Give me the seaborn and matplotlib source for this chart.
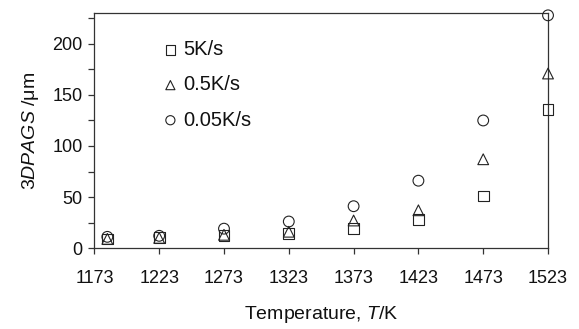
import matplotlib
matplotlib.use("Agg")
import matplotlib.pyplot as plt
import seaborn as sns
import pandas as pd

temps = [1183, 1223, 1273, 1323, 1373, 1423, 1473, 1523]
rate_5 = [9, 10, 12, 14, 19, 28, 51, 136]
rate_05 = [9, 10, 13, 16, 27, 37, 87, 171]
rate_005 = [11, 12, 19, 26, 41, 66, 125, 228]
series_labels = ["5K/s", "0.5K/s", "0.05K/s"]
series_markers = ["s", "^", "o"]
xticks = [1173, 1223, 1273, 1323, 1373, 1423, 1473, 1523]
yticks = [0, 50, 100, 150, 200]

sns.set_theme(style="ticks")
plt.rcParams["font.family"] = ["Liberation Sans", "DejaVu Sans"]
plt.rcParams["mathtext.fontset"] = "custom"
plt.rcParams["mathtext.it"] = "Liberation Sans:italic"
plt.rcParams["mathtext.rm"] = "Liberation Sans"

df = pd.DataFrame({
    "T": temps * 3,
    "size": rate_5 + rate_05 + rate_005,
    "rate": [series_labels[0]] * 8 + [series_labels[1]] * 8 + [series_labels[2]] * 8,
})

fig = plt.figure(figsize=(5.79, 3.29), dpi=100)
ax = fig.add_axes([0.163, 0.246, 0.7835, 0.7136])

for lab, mk in zip(series_labels, series_markers):
    sub = df[df["rate"] == lab]
    sns.scatterplot(data=sub, x="T", y="size", marker=mk, s=60,
                    facecolors="none", edgecolor="#222222", linewidth=0.8,
                    label=lab, ax=ax, zorder=3, clip_on=False)

ax.set_xlim(1173, 1523)
ax.set_ylim(0, 230)
ax.set_xticks(xticks)
ax.set_xticklabels([str(t) for t in xticks])
ax.set_yticks(yticks)
ax.set_yticks([25, 75, 125, 175, 225], minor=True)

for sp in ax.spines.values():
    sp.set_visible(True)
    sp.set_color("#333333")
    sp.set_linewidth(0.9)

ax.tick_params(axis="both", which="both", direction="out", length=4, width=0.9,
               color="#333333", labelsize=13, labelcolor="#111111")
ax.tick_params(axis="x", pad=12)
ax.tick_params(axis="y", pad=4.5)

ax.set_xlabel(r"Temperature, $\it{T}$/K", fontsize=14, labelpad=12, color="#111111")
ax.set_ylabel(r"$\it{3DPAGS}$ /μm", fontsize=14, labelpad=8, color="#111111")

leg = ax.legend(loc="upper left", bbox_to_anchor=(0.152, 0.885), frameon=False,
                fontsize=14.5, handlelength=0.7, handletextpad=0.3, markerscale=0.85,
                labelspacing=0.8, borderpad=0, borderaxespad=0)
for t in leg.get_texts():
    t.set_color("#111111")

fig.savefig("out.png", dpi=100)
